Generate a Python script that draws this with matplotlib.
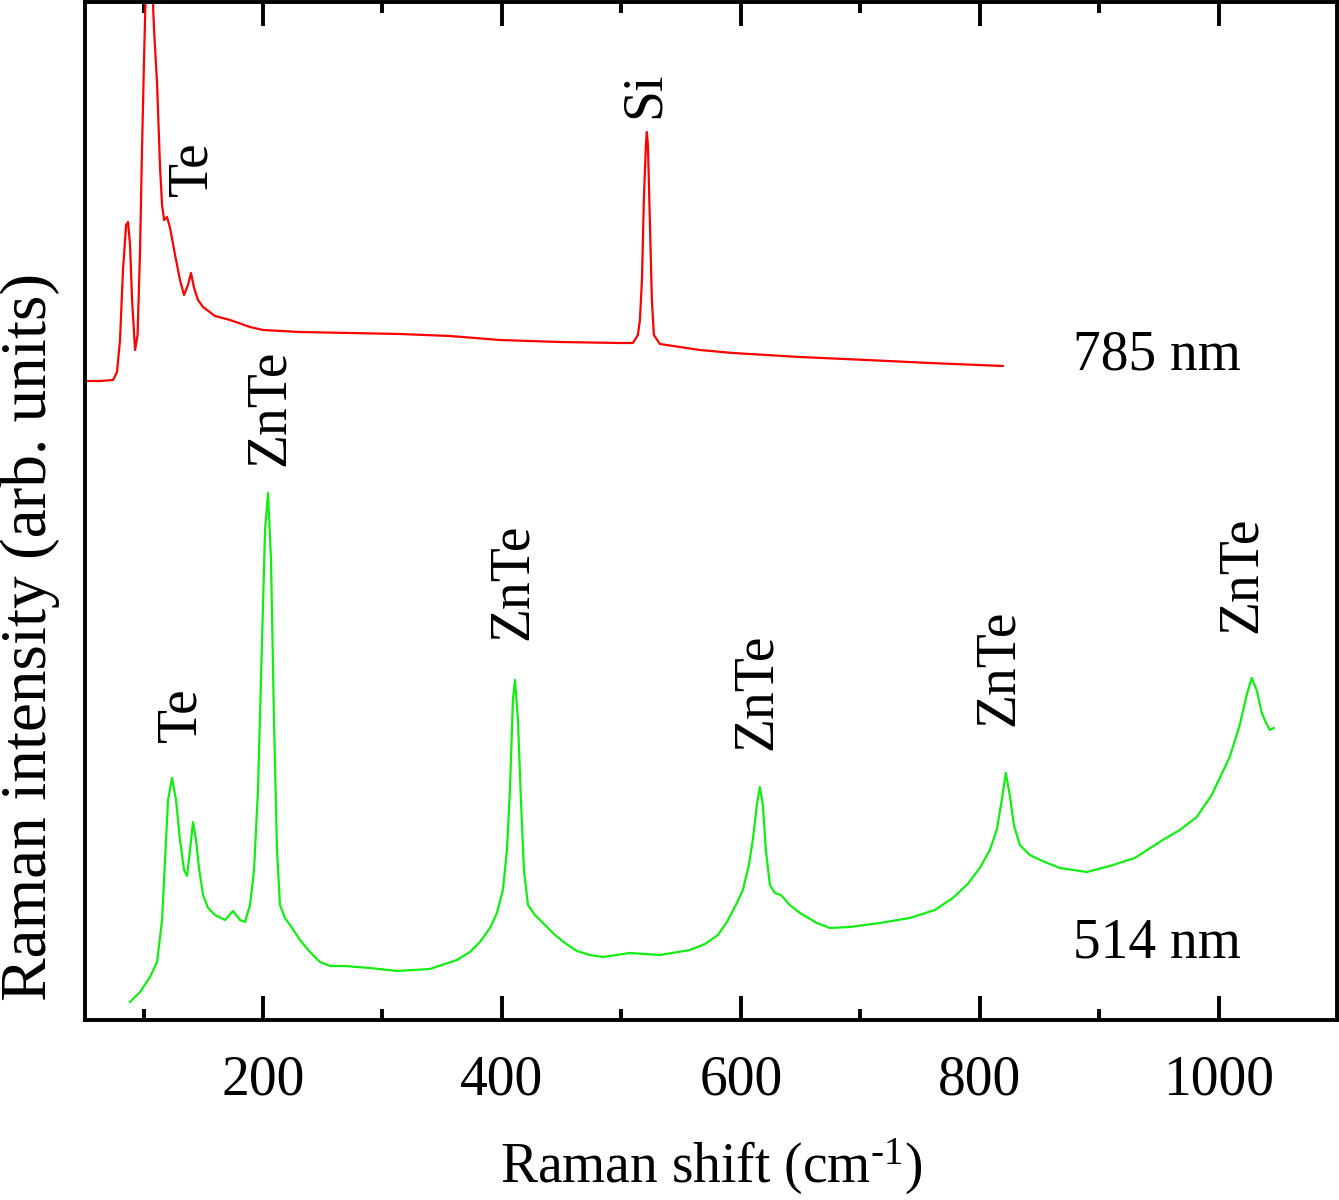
import matplotlib
matplotlib.use("Agg")
import matplotlib.pyplot as plt
from matplotlib.ticker import MultipleLocator

plt.rcParams['font.family'] = ['Liberation Serif', 'DejaVu Serif']
plt.rcParams['mathtext.fontset'] = 'custom'
plt.rcParams['mathtext.rm'] = 'Liberation Serif'
plt.rcParams['mathtext.it'] = 'Liberation Serif:italic'

# 514 nm excitation
shift_514 = [88.7, 97.1, 105.4, 111.3, 115.5, 118.0, 120.5, 123.8, 127.2, 130.5,
             133.9, 136.4, 138.9, 141.4, 143.9, 146.4, 149.8, 154.0, 159.8, 168.2,
             174.9, 180.8, 184.9, 189.1, 192.5, 195.8, 199.2, 201.7, 204.2, 206.7,
             209.2, 211.7, 214.2, 218.4, 224.3, 231.0, 239.3, 247.7, 256.1, 268.6,
             289.5, 312.1, 339.7, 362.3, 373.2, 381.6, 390.0, 395.8, 400.8, 404.2,
             406.7, 409.2, 410.9, 413.4, 415.9, 418.4, 421.8, 427.6, 434.3, 444.4,
             452.7, 462.8, 473.6, 484.5, 507.1, 532.2, 557.3, 569.9, 580.8, 588.3,
             595.8, 601.7, 606.7, 610.0, 613.4, 615.9, 618.4, 620.9, 624.3, 628.5,
             633.5, 641.0, 649.4, 663.6, 674.5, 691.2, 716.3, 741.4, 762.3, 777.4,
             789.9, 800.0, 808.4, 814.2, 818.4, 821.8, 825.1, 828.5, 833.5, 841.8,
             854.4, 867.0, 889.5, 908.8, 929.7, 953.1, 967.4, 981.6, 994.1, 1009.2,
             1017.6, 1023.4, 1027.6, 1031.8, 1036.0, 1039.3, 1042.7, 1046.0]
int_514 = [1.8, 2.8, 4.3, 5.8, 10.0, 16.0, 22.0, 24.2, 22.0, 18.0,
           15.0, 14.4, 17.0, 19.8, 18.0, 15.2, 12.5, 11.2, 10.5, 10.0,
           10.9, 10.0, 9.8, 11.5, 15.0, 23.0, 38.0, 49.0, 52.7, 46.0,
           30.0, 17.0, 11.5, 10.2, 9.2, 8.0, 6.8, 5.8, 5.4, 5.4,
           5.2, 4.9, 5.1, 6.0, 6.8, 7.8, 9.2, 10.7, 13.0, 17.0,
           23.0, 32.0, 34.0, 30.0, 22.0, 15.0, 11.5, 10.5, 9.7, 8.5,
           7.7, 6.9, 6.5, 6.3, 6.7, 6.5, 7.0, 7.6, 8.5, 9.8,
           11.5, 13.0, 15.5, 18.0, 21.5, 23.3, 21.5, 17.0, 13.5, 12.7,
           12.5, 11.5, 10.7, 9.7, 9.2, 9.3, 9.7, 10.2, 11.0, 12.2,
           13.6, 15.2, 17.0, 19.0, 22.0, 24.7, 22.5, 19.5, 17.5, 16.5,
           15.8, 15.2, 14.8, 15.4, 16.2, 18.0, 19.0, 20.3, 22.5, 26.3,
           29.5, 32.5, 34.2, 33.0, 30.7, 29.8, 29.0, 29.2]

# 785 nm excitation
shift_785 = [52.7, 63.6, 74.5, 77.8, 80.3, 82.8, 85.4, 87.0, 88.7, 90.4,
             92.9, 95.0, 97.1, 98.7, 100.4, 102.1, 104.6, 107.1, 108.8, 111.3,
             113.8, 115.5, 117.2, 119.7, 122.2, 126.4, 130.5, 133.9, 137.2, 139.7,
             142.3, 145.6, 149.8, 159.8, 172.4, 189.1, 200.0, 231.0, 272.8, 314.6,
             356.5, 398.3, 448.5, 498.7, 509.6, 513.8, 515.5, 517.2, 518.8, 520.5,
             521.3, 522.2, 523.8, 525.5, 527.2, 532.2, 565.7, 593.3, 649.4, 705.4,
             758.2, 819.2]
int_785 = [63.9, 63.9, 64.0, 64.8, 68.0, 75.0, 79.5, 79.8, 77.5, 72.0,
           67.0, 68.5, 77.0, 87.0, 96.0, 104.0, 110.0, 104.0, 99.0, 93.7,
           85.3, 81.5, 80.0, 80.3, 79.2, 76.5, 74.0, 72.5, 73.5, 74.7,
           73.2, 72.0, 71.3, 70.4, 70.0, 69.3, 69.0, 68.8, 68.7, 68.6,
           68.4, 68.0, 67.8, 67.7, 67.7, 68.5, 70.0, 74.0, 82.0, 87.5,
           88.8, 87.5, 80.0, 72.0, 68.5, 67.6, 67.0, 66.7, 66.3, 66.0,
           65.7, 65.4]

# peak labels: (text, shift, intensity)
label_text = ['Te', 'Si', 'ZnTe', 'Te', 'ZnTe', 'ZnTe', 'ZnTe', 'ZnTe']
label_x = [140.6, 519.7, 205.9, 131.4, 409.2, 613.4, 815.9, 1019.2]
label_y = [85.1, 92.5, 61.2, 30.5, 43.8, 32.8, 35.2, 44.5]

fig = plt.figure(figsize=(13.39, 12), dpi=100)
ax = fig.add_axes([85 / 1339, 180 / 1200, 1252 / 1339, 1018 / 1200])

ax.plot(shift_785, int_785, color='#ff0000', lw=1.6)
ax.plot(shift_514, int_514, color='#11ee11', lw=1.6)

ax.set_xlim(51, 1099)
ax.set_ylim(0, 101.8)

ax.xaxis.set_major_locator(MultipleLocator(200))
ax.xaxis.set_minor_locator(MultipleLocator(100))
ax.set_yticks([])
ax.tick_params(axis='x', which='both', direction='in', top=True, bottom=True,
               labelsize=40, pad=25)
ax.tick_params(axis='x', which='major', length=17, width=2.8)
ax.tick_params(axis='x', which='minor', length=8, width=2.8)
for sp in ax.spines.values():
    sp.set_linewidth(2.8)

ax.set_xlabel(r'Raman shift (cm$^{\text{-}1}$)', fontsize=40, labelpad=22)
fig.text(30 / 1339, 1 - 637 / 1200, 'Raman intensity (arb. units)',
         rotation=90, ha='center', va='center', fontsize=47)

for t, x, y in zip(label_text, label_x, label_y):
    ax.text(x, y, t, rotation=90, ha='center', va='center', fontsize=40)

ax.text(877.8, 66.5, '785 nm', ha='left', va='center', fontsize=40)
ax.text(877.8, 7.7, '514 nm', ha='left', va='center', fontsize=40)

fig.savefig('out.png', dpi=100)
